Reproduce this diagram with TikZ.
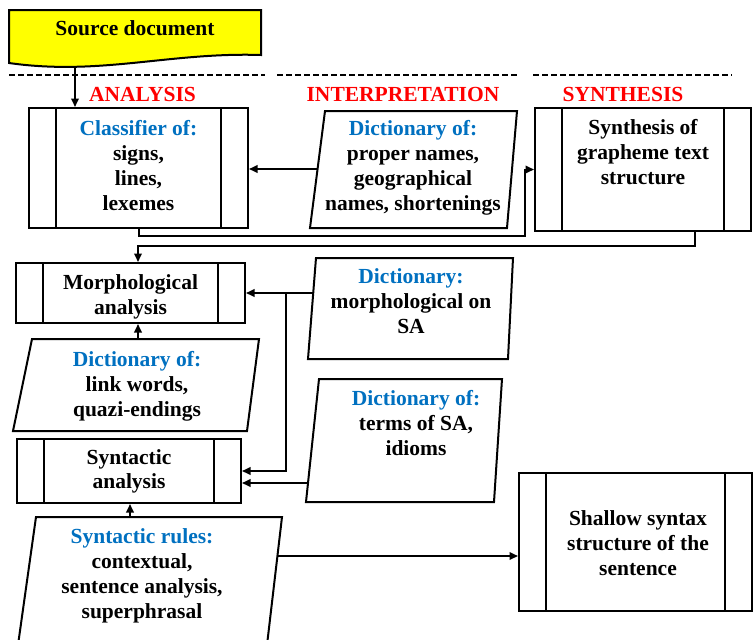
\documentclass[tikz,border=0pt]{standalone}
\usepackage{fontspec}
\setmainfont{Liberation Serif}
\usetikzlibrary{arrows.meta}
\definecolor{dictblue}{RGB}{0,112,192}
\definecolor{docyellow}{RGB}{255,255,0}

\begin{document}
\begin{tikzpicture}[x=1pt,y=-1pt]
		\tikzstyle{every node}+=[inner sep=0pt]
		\tikzstyle{ln}=[line width=2pt]
		\tikzstyle{arr}=[line width=2pt,-{Triangle[length=8.5pt,width=7.5pt]}]
		\tikzstyle{txt}=[align=center,anchor=north,font=\bfseries\fontsize{21.5}{24.8}\selectfont]
		\tikzstyle{stage}=[txt,text=red,anchor=base]
		\tikzstyle{proc}=[draw,line width=2pt,path picture={
			\draw [line width=2pt] ([xshift=27pt]path picture bounding box.north west) -- ([xshift=27pt]path picture bounding box.south west)
				([xshift=-27pt]path picture bounding box.north east) -- ([xshift=-27pt]path picture bounding box.south east);}]
		\useasboundingbox (0,0) rectangle (753,640);
		\draw [ln,fill=docyellow] (9,10) -- (261,10) -- (261,55) .. controls (170,52) and (100,76) .. (9,63) -- cycle;
		\node [txt,anchor=base] (src) at (135,35) {Source document};
		\draw [ln,dash pattern=on 6pt off 3pt] (9,75) -- (265,75);
		\draw [ln,dash pattern=on 6pt off 3pt] (277,75) -- (518,75);
		\draw [ln,dash pattern=on 6pt off 3pt] (533,75) -- (732,75);
		\node [stage] (analysis) at (142.5,101) {ANALYSIS};
		\node [stage] (interp) at (403,101) {INTERPRETATION};
		\node [stage] (synthesis) at (623,101) {SYNTHESIS};
		\node [proc,minimum width=219pt,minimum height=120pt] (cls) at (138.5,168) {};
		\node [txt] (clsT) at (138.5,120.5) {\textcolor{dictblue}{Classifier of:}\\signs,\\lines,\\lexemes};
		\draw [ln] (325,111) -- (517,111) -- (507,228) -- (310,228) -- cycle;
		\node [txt] (pn) at (413,120.5) {\textcolor{dictblue}{Dictionary of:}\\proper names,\\geographical\\names, shortenings};
		\node [proc,minimum width=216pt,minimum height=123pt] (synth) at (643,169.5) {};
		\node [txt] (synthT) at (643,119.5) {Synthesis of\\grapheme text\\structure};
		\node [proc,minimum width=229pt,minimum height=60pt] (morph) at (130.5,293) {};
		\node [txt] (morphT) at (130.5,274.5) {Morphological\\analysis};
		\draw [ln] (316,258) -- (513,258) -- (508,359) -- (308,359) -- cycle;
		\node [txt] (msa) at (411,268.5) {\textcolor{dictblue}{Dictionary:}\\morphological on\\SA};
		\draw [ln] (32,339) -- (259,339) -- (247,431) -- (13,431) -- cycle;
		\node [txt] (lk) at (137,351.5) {\textcolor{dictblue}{Dictionary of:}\\link words,\\quazi-endings};
		\node [proc,minimum width=224pt,minimum height=64pt] (syn) at (129,471) {};
		\node [txt] (synT) at (129,449) {Syntactic\\analysis};
		\draw [ln] (319,379) -- (502,379) -- (494,502) -- (306,502) -- cycle;
		\node [txt] (tm) at (416,390.5) {\textcolor{dictblue}{Dictionary of:}\\terms of SA,\\idioms};
		\draw [ln] (18,645) -- (36,517) -- (282,517) -- (267,645);
		\node [txt] (rules) at (142,528.5) {\textcolor{dictblue}{Syntactic rules:}\\contextual,\\sentence analysis,\\superphrasal};
		\node [proc,minimum width=233pt,minimum height=138pt] (shallow) at (635.5,542) {};
		\node [txt] (shallowT) at (638,510.5) {Shallow syntax\\structure of the\\sentence};
		\coordinate (srcB) at (75,66);
		\draw [arr] (srcB) -- (srcB |- cls.north);
		\coordinate (pnL) at (317.6,169);
		\draw [arr] (pnL) -- (pnL -| cls.east);
		\coordinate (c1) at (525,236);
		\draw [arr] (cls.south) |- (c1) |- (synth.west);
		\coordinate (c2) at (695,246);
		\coordinate (c3) at (138,246);
		\draw [arr] (synth.south -| c2) -- (c2) -- (c3) -- (c3 |- morph.north);
		\coordinate (lkTop) at (138,339);
		\draw [arr] (lkTop) -- (lkTop |- morph.south);
		\coordinate (msaL) at (313,293);
		\draw [arr] (msaL) -- (msaL -| morph.east);
		\coordinate (c4) at (286,293);
		\draw [arr] (c4) |- (syn.east);
		\coordinate (tmL) at (308,483);
		\draw [arr] (tmL) -- (tmL -| syn.east);
		\coordinate (rlTop) at (130,517);
		\draw [arr] (rlTop) -- (rlTop |- syn.south);
		\coordinate (rlR) at (277.6,556);
		\draw [arr] (rlR) -- (rlR -| shallow.west);
\end{tikzpicture}
\end{document}
